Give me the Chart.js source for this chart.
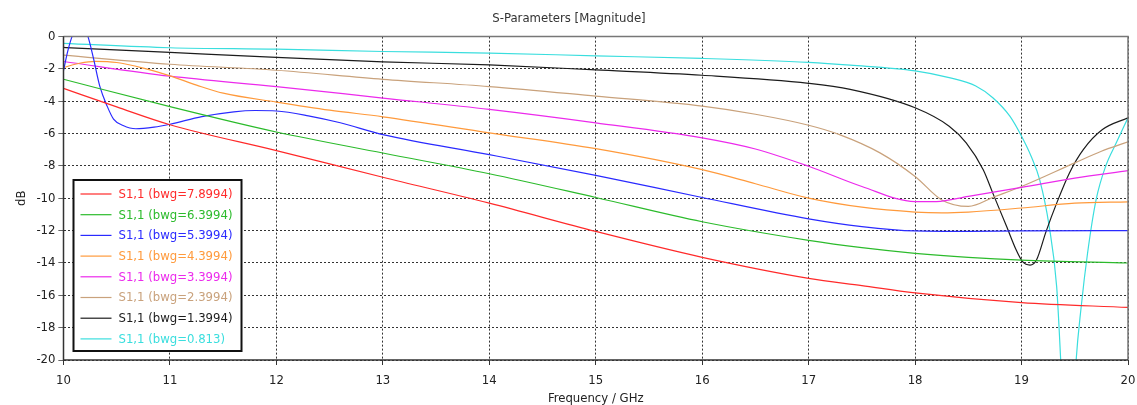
<!DOCTYPE html>
<html>
<head>
<meta charset="utf-8">
<script src="https://cdn.jsdelivr.net/npm/chart.js@4/dist/chart.umd.min.js"></script>
<style>
  body { margin: 0; background: #fff; }
  #wrap { width: 1137px; height: 405px; }
</style>
</head>
<body>
<div id="wrap"><canvas id="sparam"></canvas></div>
<script>
// legend labels
const labels = ["S1,1 (bwg=7.8994)", "S1,1 (bwg=6.3994)", "S1,1 (bwg=5.3994)", "S1,1 (bwg=4.3994)",
                "S1,1 (bwg=3.3994)", "S1,1 (bwg=2.3994)", "S1,1 (bwg=1.3994)", "S1,1 (bwg=0.813)"];
const colors = ["#ff2a2a", "#2cbb2c", "#2a2aff", "#ff9a3c", "#ec2aec", "#c9a27c", "#1c1c1c", "#3adede"];

// frequency (GHz) and |S11| (dB), one pair per curve
const f1 = [10, 10.5, 11, 12, 13, 14, 15, 16, 17, 17.5, 18, 19, 20];
const s1 = [-3.2, -4.35, -5.45, -7.05, -8.7, -10.3, -12.05, -13.65, -14.95, -15.4, -15.85, -16.45, -16.75];

const f2 = [10, 11, 12, 13, 14, 15, 16, 17, 17.5, 18, 18.5, 19, 20];
const s2 = [-2.64, -4.33, -5.9, -7.2, -8.48, -9.95, -11.45, -12.6, -13.05, -13.4, -13.65, -13.82, -14.0];

const f3 = [10, 10.04, 10.08, 10.155, 10.23, 10.28, 10.34, 10.41, 10.47, 10.56, 10.68, 10.85, 11, 11.3, 11.6, 11.8, 12,
            12.3, 12.6, 13, 14, 15, 16, 17, 17.5, 18, 18.5, 19, 20];
const s3 = [-2.1, -0.9, 0, 1.0, 0, -1.3, -3.05, -4.3, -5.1, -5.5, -5.7, -5.6, -5.42, -4.95, -4.65, -4.57, -4.6,
            -4.9, -5.33, -6.06, -7.3, -8.58, -9.95, -11.27, -11.75, -12.02, -12.05, -12.02, -12.0];

const f4 = [10, 10.15, 10.3, 10.5, 10.75, 11, 11.25, 11.5, 12, 12.5, 13, 14, 15, 16, 16.5, 17, 17.5, 18, 18.25, 18.5, 19, 19.5, 20];
const s4 = [-1.91, -1.65, -1.53, -1.6, -1.95, -2.43, -3.0, -3.5, -4.05, -4.55, -4.96, -5.95, -6.93, -8.23, -9.1, -9.99,
            -10.55, -10.85, -10.9, -10.85, -10.6, -10.3, -10.22];

const f5 = [10, 11, 12, 13, 14, 15, 16, 16.5, 17, 17.5, 18, 18.2, 18.5, 19, 19.5, 20];
const s5 = [-1.54, -2.45, -3.09, -3.8, -4.5, -5.33, -6.26, -6.95, -8.02, -9.27, -10.2, -10.2, -9.88, -9.33, -8.75, -8.29];

const f6 = [10, 11, 12, 13, 14, 15, 16, 16.5, 17, 17.29, 17.67, 18, 18.25, 18.5, 18.75, 19, 19.5, 19.75, 20];
const s6 = [-1.15, -1.71, -2.08, -2.64, -3.09, -3.68, -4.3, -4.8, -5.48, -6.06, -7.19, -8.65, -10.1, -10.5, -9.89, -9.27,
            -7.81, -7.09, -6.51];

const f7 = [10, 11, 12, 13, 14, 15, 16, 17, 17.39, 18, 18.32, 18.48, 18.64, 18.73, 18.86, 18.95, 19.01, 19.08, 19.14,
            19.23, 19.33, 19.45, 19.58, 19.76, 20];
const s7 = [-0.67, -0.98, -1.29, -1.56, -1.75, -2.06, -2.39, -2.89, -3.26, -4.4, -5.54, -6.57, -8.23, -9.68, -11.75, -13.2,
            -13.92, -14.13, -13.82, -12.06, -10.3, -8.43, -6.99, -5.75, -5.02];

const f8 = [10, 11, 12, 13, 14, 15, 16, 17, 17.39, 18, 18.32, 18.57, 18.73, 18.89, 19, 19.09, 19.17, 19.26, 19.33, 19.37,
            19.44, 19.51, 19.56, 19.62, 19.7, 19.79, 19.89, 20];
const s8 = [-0.42, -0.69, -0.78, -0.92, -1.02, -1.19, -1.35, -1.6, -1.77, -2.12, -2.54, -3.05, -3.78, -4.92, -6.16, -7.4,
            -8.85, -11.75, -15.48, -20.3, -30, -20.3, -16.72, -13.4, -10.1, -8.02, -6.57, -5.02];

const freqs = [f1, f2, f3, f4, f5, f6, f7, f8];
const mags = [s1, s2, s3, s4, s5, s6, s7, s8];

const FONT = "'DejaVu Sans Condensed', 'DejaVu Sans', sans-serif";

const datasets = labels.map((lab, i) => ({
    label: lab,
    data: freqs[i].map((f, j) => ({ x: f, y: mags[i][j] })),
    borderColor: colors[i],
    backgroundColor: colors[i],
    borderWidth: 1.2,
    pointRadius: 0,
    cubicInterpolationMode: 'monotone',
    fill: false
}));

// frame around plot + boxed legend inside the plot
const framePlugin = {
    id: 'frame',
    afterDatasetsDraw(chart) {
        const ctx = chart.ctx, a = chart.chartArea;
        ctx.save();
        ctx.strokeStyle = '#777';
        ctx.lineWidth = 1.5;
        ctx.beginPath();
        ctx.moveTo(a.left, a.top);
        ctx.lineTo(a.right, a.top);
        ctx.lineTo(a.right, a.bottom);
        ctx.stroke();
        ctx.strokeStyle = '#333';
        ctx.beginPath();
        ctx.moveTo(a.left, a.top);
        ctx.lineTo(a.left, a.bottom);
        ctx.lineTo(a.right, a.bottom);
        ctx.stroke();

        // legend box
        const bx = a.left + 10, by = 180, bw = 168, bh = 171;
        ctx.fillStyle = '#fff';
        ctx.fillRect(bx, by, bw, bh);
        ctx.strokeStyle = '#111';
        ctx.lineWidth = 2;
        ctx.strokeRect(bx, by, bw, bh);
        ctx.font = '13px ' + FONT;
        ctx.textBaseline = 'middle';
        ctx.textAlign = 'left';
        labels.forEach((lab, i) => {
            const y = by + 14 + i * 20.7;
            ctx.strokeStyle = colors[i];
            ctx.lineWidth = 1.2;
            ctx.beginPath();
            ctx.moveTo(bx + 7, y);
            ctx.lineTo(bx + 38, y);
            ctx.stroke();
            ctx.fillStyle = colors[i];
            ctx.fillText(lab, bx + 45, y + 0.5);
        });
        ctx.restore();
    }
};

const gridOpts = {
    color: '#333',
    lineWidth: 1,
    tickLength: 5,
    tickColor: '#333',
    tickBorderDash: [1, 0],
    tickWidth: 1
};
// in v4 the grid line dash lives under border.dash
const borderOpts = { display: false, dash: [2, 2] };

new Chart(document.getElementById('sparam'), {
    type: 'line',
    data: { datasets: datasets },
    options: {
        responsive: true,
        maintainAspectRatio: false,
        animation: false,
        layout: { padding: { left: 10, right: 9, top: 0, bottom: -5 } },
        plugins: {
            legend: { display: false },
            tooltip: { enabled: false },
            title: {
                display: true,
                text: 'S-Parameters [Magnitude]',
                color: '#333',
                font: { family: FONT, size: 13, weight: 'normal' },
                padding: { top: 11, bottom: 10 }
            }
        },
        scales: {
            x: {
                type: 'linear',
                min: 10,
                max: 20,
                ticks: { stepSize: 1, color: '#222', padding: 8, font: { family: FONT, size: 13 } },
                grid: gridOpts,
                border: borderOpts,
                title: { display: true, text: 'Frequency / GHz', color: '#222', font: { family: FONT, size: 13 } },
                afterFit(scale) { scale.height = 50; scale.paddingRight = 0; scale.paddingLeft = 0; }
            },
            y: {
                min: -20,
                max: 0,
                ticks: { stepSize: 2, color: '#222', padding: 3, font: { family: FONT, size: 13 } },
                grid: gridOpts,
                border: borderOpts,
                title: { display: true, text: 'dB', color: '#222', font: { family: FONT, size: 13 } },
                afterFit(scale) { scale.width = 53.5; scale.paddingTop = 0; scale.paddingBottom = 0; }
            }
        }
    },
    plugins: [framePlugin]
});
</script>
</body>
</html>
